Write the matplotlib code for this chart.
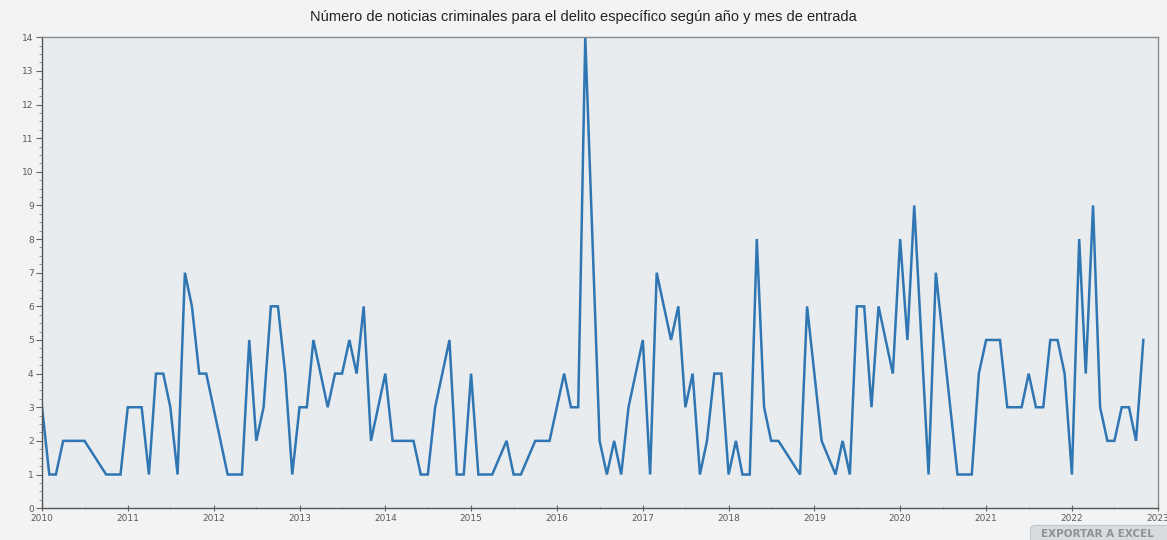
import pandas as pd
import matplotlib
matplotlib.use("Agg")
import matplotlib.pyplot as plt
import matplotlib.dates as mdates
from matplotlib.ticker import MultipleLocator, AutoMinorLocator
from matplotlib.patches import FancyBboxPatch

# Monthly counts (months with no point are left out)
fechas = [
    "2010-01", "2010-02", "2010-03", "2010-04", "2010-05", "2010-06", "2010-07",
    "2010-10", "2010-11", "2010-12",
    "2011-01", "2011-02", "2011-03", "2011-04", "2011-05", "2011-06", "2011-07",
    "2011-08", "2011-09", "2011-10", "2011-11", "2011-12",
    "2012-03", "2012-04", "2012-05", "2012-06", "2012-07", "2012-08", "2012-09",
    "2012-10", "2012-11", "2012-12",
    "2013-01", "2013-02", "2013-03", "2013-05", "2013-06", "2013-07", "2013-08",
    "2013-09", "2013-10", "2013-11",
    "2014-01", "2014-02", "2014-03", "2014-04", "2014-05", "2014-06", "2014-07",
    "2014-08", "2014-10", "2014-11", "2014-12",
    "2015-01", "2015-02", "2015-03", "2015-04", "2015-06", "2015-07", "2015-08",
    "2015-10", "2015-11", "2015-12",
    "2016-02", "2016-03", "2016-04", "2016-05", "2016-07", "2016-08", "2016-09",
    "2016-10", "2016-11",
    "2017-01", "2017-02", "2017-03", "2017-05", "2017-06", "2017-07", "2017-08",
    "2017-09", "2017-10", "2017-11", "2017-12",
    "2018-01", "2018-02", "2018-03", "2018-04", "2018-05", "2018-06", "2018-07",
    "2018-08", "2018-11", "2018-12",
    "2019-02", "2019-04", "2019-05", "2019-06", "2019-07", "2019-08", "2019-09",
    "2019-10", "2019-12",
    "2020-01", "2020-02", "2020-03", "2020-05", "2020-06", "2020-09", "2020-10",
    "2020-11", "2020-12",
    "2021-01", "2021-02", "2021-03", "2021-04", "2021-05", "2021-06", "2021-07",
    "2021-08", "2021-09", "2021-10", "2021-11", "2021-12",
    "2022-01", "2022-02", "2022-03", "2022-04", "2022-05", "2022-06", "2022-07",
    "2022-08", "2022-09", "2022-10", "2022-11",
]
noticias = [
    3, 1, 1, 2, 2, 2, 2,
    1, 1, 1,
    3, 3, 3, 1, 4, 4, 3,
    1, 7, 6, 4, 4,
    1, 1, 1, 5, 2, 3, 6,
    6, 4, 1,
    3, 3, 5, 3, 4, 4, 5,
    4, 6, 2,
    4, 2, 2, 2, 2, 1, 1,
    3, 5, 1, 1,
    4, 1, 1, 1, 2, 1, 1,
    2, 2, 2,
    4, 3, 3, 14, 2, 1, 2,
    1, 3,
    5, 1, 7, 5, 6, 3, 4,
    1, 2, 4, 4,
    1, 2, 1, 1, 8, 3, 2,
    2, 1, 6,
    2, 1, 2, 1, 6, 6, 3,
    6, 4,
    8, 5, 9, 1, 7, 1, 1,
    1, 4,
    5, 5, 5, 3, 3, 3, 4,
    3, 3, 5, 5, 4,
    1, 8, 4, 9, 3, 2, 2,
    3, 3, 2, 5,
]

titulo = "Número de noticias criminales para el delito específico según año y mes de entrada"

x = pd.to_datetime(fechas, format="%Y-%m")

fig = plt.figure(figsize=(11.67, 5.4), dpi=100, facecolor="#f1f3f4")
ax = fig.add_axes([0.036, 0.059, 0.956, 0.872])
ax.set_facecolor("#e8ecee")

ax.plot(x, noticias, color="#2f76b3", linewidth=1.8, solid_joinstyle="miter")

ax.set_xlim(pd.Timestamp("2010-01-01"), pd.Timestamp("2023-01-01"))
ax.set_ylim(0, 14)

ax.xaxis.set_major_locator(mdates.YearLocator())
ax.xaxis.set_major_formatter(mdates.DateFormatter("%Y"))
ax.xaxis.set_minor_locator(mdates.MonthLocator(bymonth=7))
ax.yaxis.set_major_locator(MultipleLocator(1))
ax.yaxis.set_minor_locator(AutoMinorLocator(4))

ax.tick_params(axis="both", which="major", labelsize=6.5, labelcolor="#5a5a5a",
               color="#666666", length=4, width=0.8)
ax.tick_params(axis="both", which="minor", color="#888888", length=2, width=0.6)
ax.tick_params(axis="x", which="both", direction="inout", pad=2)
ax.tick_params(axis="y", which="both", direction="out", pad=2)

for side in ["left", "bottom"]:
    ax.spines[side].set_color("#555555")
    ax.spines[side].set_linewidth(1.0)
for side in ["top", "right"]:
    ax.spines[side].set_color("#8a8a8a")
    ax.spines[side].set_linewidth(1.0)

fig.text(0.5, 0.968, titulo, ha="center", va="center", fontsize=10.5,
         color="#222222", family=["Liberation Sans", "DejaVu Sans"])

# export button peeking in at the bottom right corner
boton = FancyBboxPatch((0.885, -0.02), 0.14, 0.045,
                       boxstyle="round,pad=0.002,rounding_size=0.006",
                       transform=fig.transFigure, facecolor="#d9dcde",
                       edgecolor="#c4c7c9", linewidth=0.8, clip_on=False)
fig.patches.append(boton)
fig.text(0.892, 0.001, "EXPORTAR A EXCEL", ha="left", va="bottom", fontsize=7.5,
         color="#8f9193", fontweight="bold")

fig.savefig("out.png", dpi=100, facecolor=fig.get_facecolor())
